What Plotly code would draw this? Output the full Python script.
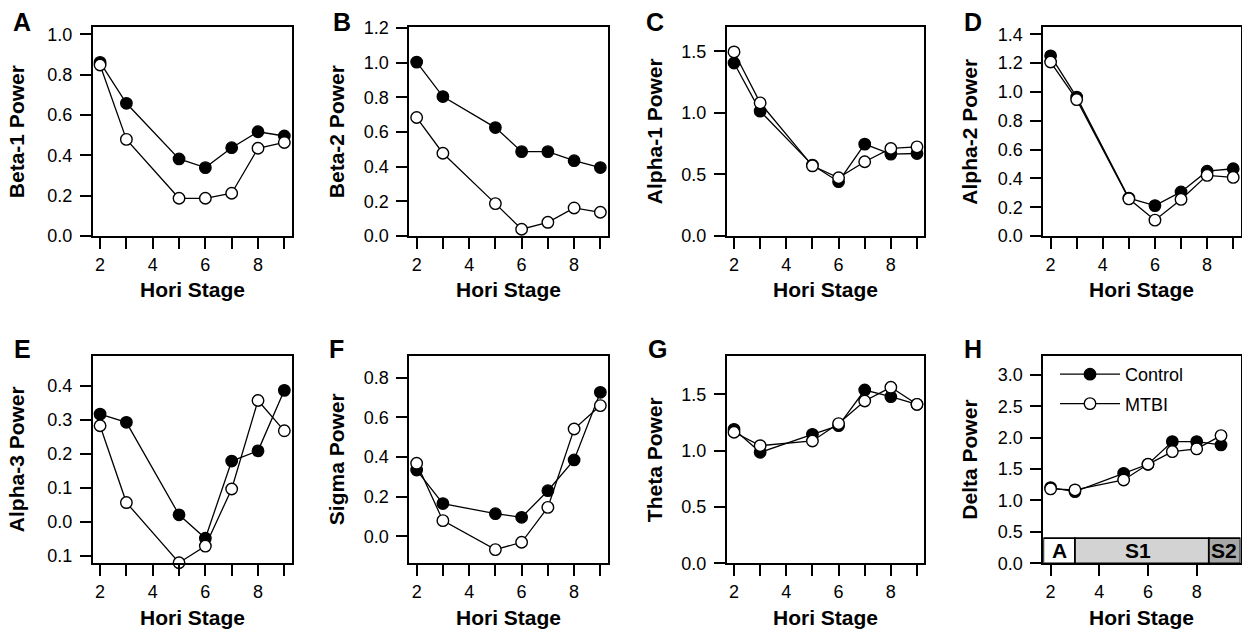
import plotly.graph_objects as go

# ---------------- data ----------------
stages = [2, 3, 5, 6, 7, 8, 9]

beta1_control = [0.861, 0.658, 0.382, 0.339, 0.438, 0.517, 0.496]
beta1_mtbi = [0.848, 0.479, 0.187, 0.187, 0.212, 0.435, 0.464]

beta2_control = [1.004, 0.805, 0.626, 0.487, 0.487, 0.435, 0.395]
beta2_mtbi = [0.684, 0.478, 0.187, 0.039, 0.079, 0.162, 0.137]

alpha1_control = [1.405, 1.014, 0.576, 0.441, 0.746, 0.665, 0.670]
alpha1_mtbi = [1.495, 1.081, 0.570, 0.473, 0.603, 0.711, 0.724]

alpha2_control = [1.251, 0.964, 0.263, 0.211, 0.306, 0.450, 0.467]
alpha2_mtbi = [1.208, 0.947, 0.258, 0.110, 0.254, 0.421, 0.407]

alpha3_control = [0.317, 0.293, 0.021, -0.048, 0.179, 0.209, 0.387]
alpha3_mtbi = [0.283, 0.057, -0.120, -0.071, 0.097, 0.357, 0.268]

sigma_control = [0.334, 0.165, 0.114, 0.096, 0.230, 0.385, 0.726]
sigma_mtbi = [0.368, 0.079, -0.067, -0.030, 0.146, 0.541, 0.659]

theta_control = [1.189, 0.985, 1.145, 1.222, 1.538, 1.479, 1.411]
theta_mtbi = [1.163, 1.044, 1.086, 1.240, 1.441, 1.562, 1.411]

delta_control = [1.205, 1.141, 1.433, 1.576, 1.937, 1.937, 1.884]
delta_mtbi = [1.184, 1.168, 1.327, 1.576, 1.778, 1.821, 2.033]

panel_letters = ["A", "B", "C", "D", "E", "F", "G", "H"]
y_titles = ["Beta-1 Power", "Beta-2 Power", "Alpha-1 Power", "Alpha-2 Power",
            "Alpha-3 Power", "Sigma Power", "Theta Power", "Delta Power"]
x_title = "Hori Stage"
series_names = ["Control", "MTBI"]

y_tickvals = [
    [0.0, 0.2, 0.4, 0.6, 0.8, 1.0],
    [0.0, 0.2, 0.4, 0.6, 0.8, 1.0, 1.2],
    [0.0, 0.5, 1.0, 1.5],
    [0.0, 0.2, 0.4, 0.6, 0.8, 1.0, 1.2, 1.4],
    [-0.1, 0.0, 0.1, 0.2, 0.3, 0.4],
    [0.0, 0.2, 0.4, 0.6, 0.8],
    [0.0, 0.5, 1.0, 1.5],
    [0.0, 0.5, 1.0, 1.5, 2.0, 2.5, 3.0],
]
y_ticktext = [
    ["0.0", "0.2", "0.4", "0.6", "0.8", "1.0"],
    ["0.0", "0.2", "0.4", "0.6", "0.8", "1.0", "1.2"],
    ["0.0", "0.5", "1.0", "1.5"],
    ["0.0", "0.2", "0.4", "0.6", "0.8", "1.0", "1.2", "1.4"],
    ["0.1", "0.0", "0.1", "0.2", "0.3", "0.4"],
    ["0.0", "0.2", "0.4", "0.6", "0.8"],
    ["0.0", "0.5", "1.0", "1.5"],
    ["0.0", "0.5", "1.0", "1.5", "2.0", "2.5", "3.0"],
]
y_ranges = [
    [0.0, 1.035], [0.0, 1.205], [0.0, 1.695], [0.0, 1.449],
    [-0.1216, 0.488], [-0.136, 0.909], [0.0, 1.84], [0.0, 3.30],
]

x_tickvals_full = [2, 3, 4, 5, 6, 7, 8, 9]
x_ticktext_full = ["2", "", "4", "", "6", "", "8", ""]
x_tickvals_h = [2, 4, 6, 8]
x_ticktext_h = ["2", "4", "6", "8"]

stage_labels = ["A", "S1", "S2"]
stage_bounds = [1.70, 3.0, 8.5, 9.80]
stage_colors = ["#ffffff", "#d3d3d3", "#a8a8a8"]
stage_label_x = [2.38, 5.57, 9.14]
stage_bar_top = 0.4

series = [
    (beta1_control, beta1_mtbi), (beta2_control, beta2_mtbi),
    (alpha1_control, alpha1_mtbi), (alpha2_control, alpha2_mtbi),
    (alpha3_control, alpha3_mtbi), (sigma_control, sigma_mtbi),
    (theta_control, theta_mtbi), (delta_control, delta_mtbi),
]

# ---------------- geometry (pixels) ----------------
W, H = 1242, 633
col_x = [(92.7, 291.7), (409.3, 607.7), (726.7, 924.3), (1043.3, 1240.5)]
row_y = [(27.3, 236.0), (356.0, 563.3)]
ytitle_cx = [16.5, 336.5, 654.5, 970.0]
letter_cx = [[22, 341.5, 655, 972.5], [22.5, 336.5, 657, 972.5]]
letter_cy = [21.8, 349.0]
xtitle_cy = [290, 617]

FONT = "Liberation Sans, Arial, Helvetica, sans-serif"


def px(x):
    return x / W


def py(y):
    return 1 - y / H


fig = go.Figure()
layout = dict(
    width=W, height=H, autosize=False,
    margin=dict(l=0, r=0, t=0, b=0, pad=0, autoexpand=False),
    paper_bgcolor="white", plot_bgcolor="white",
    font=dict(family=FONT, color="black", size=18),
    showlegend=True,
    annotations=[], shapes=[],
)

for i in range(8):
    r, c = divmod(i, 4)
    n = "" if i == 0 else str(i + 1)
    xa, ya = "x" + n, "y" + n
    x0, x1 = col_x[c]
    y0, y1 = row_y[r]
    is_h = i == 7
    layout["xaxis" + n] = dict(
        domain=[px(x0), px(x1)], anchor=ya, automargin=False,
        range=[stage_bounds[0], stage_bounds[-1]] if is_h else [1.72, 9.28],
        tickmode="array",
        tickvals=x_tickvals_h if is_h else x_tickvals_full,
        ticktext=x_ticktext_h if is_h else x_ticktext_full,
        ticks="outside", ticklen=11, tickwidth=1.5, tickcolor="black",
        showline=True, mirror=True, linecolor="black", linewidth=1.8,
        showgrid=False, zeroline=False,
        tickfont=dict(size=18, family=FONT, color="black"),
        ticklabelstandoff=0,
        fixedrange=True,
    )
    layout["yaxis" + n] = dict(
        domain=[py(y1), py(y0)], anchor=xa, automargin=False,
        range=y_ranges[i],
        tickmode="array", tickvals=y_tickvals[i], ticktext=y_ticktext[i],
        ticks="outside", ticklen=11, tickwidth=1.5, tickcolor="black",
        showline=True, mirror=True, linecolor="black", linewidth=1.8,
        showgrid=False, zeroline=False,
        tickfont=dict(size=18, family=FONT, color="black"),
        ticklabelstandoff=4,
        fixedrange=True,
    )
    ctrl, mtbi = series[i]
    fig.add_trace(go.Scatter(
        x=stages, y=ctrl, xaxis=xa, yaxis=ya, mode="lines+markers",
        name=series_names[0], legendgroup="ctrl", showlegend=is_h,
        line=dict(color="black", width=1.3),
        marker=dict(symbol="circle", size=11.5, color="black",
                    line=dict(color="black", width=1.3)),
        cliponaxis=False,
    ))
    fig.add_trace(go.Scatter(
        x=stages, y=mtbi, xaxis=xa, yaxis=ya, mode="lines+markers",
        name=series_names[1], legendgroup="mtbi", showlegend=is_h,
        line=dict(color="black", width=1.3),
        marker=dict(symbol="circle", size=11.5, color="white",
                    line=dict(color="black", width=1.4)),
        cliponaxis=False,
    ))
    layout["annotations"].append(dict(
        text="<b>%s</b>" % y_titles[i], textangle=-90,
        xref="paper", yref="paper", x=px(ytitle_cx[c]), y=py((y0 + y1) / 2),
        xanchor="center", yanchor="middle", showarrow=False,
        font=dict(size=21, family=FONT, color="black"),
    ))
    layout["annotations"].append(dict(
        text="<b>%s</b>" % x_title,
        xref="paper", yref="paper", x=px((x0 + x1) / 2), y=py(xtitle_cy[r]),
        xanchor="center", yanchor="middle", showarrow=False,
        font=dict(size=21, family=FONT, color="black"),
    ))
    layout["annotations"].append(dict(
        text="<b>%s</b>" % panel_letters[i],
        xref="paper", yref="paper", x=px(letter_cx[r][c]), y=py(letter_cy[r]),
        xanchor="center", yanchor="middle", showarrow=False,
        font=dict(size=25, family=FONT, color="black"),
    ))

for k, lab in enumerate(stage_labels):
    layout["shapes"].append(dict(
        type="rect", xref="x8", yref="y8",
        x0=stage_bounds[k], x1=stage_bounds[k + 1], y0=0, y1=stage_bar_top,
        fillcolor=stage_colors[k], line=dict(color="black", width=1.8),
        layer="below",
    ))
    layout["annotations"].append(dict(
        text="<b>%s</b>" % lab, xref="x8", yref="y8",
        x=stage_label_x[k], y=stage_bar_top / 2,
        xanchor="center", yanchor="middle", showarrow=False,
        font=dict(size=21, family=FONT, color="black"),
    ))

layout["legend"] = dict(
    x=px(1055), y=py(356), xanchor="left", yanchor="top",
    bgcolor="rgba(0,0,0,0)", borderwidth=0,
    font=dict(size=18, family=FONT, color="black"),
    itemwidth=60, tracegroupgap=3,
    itemclick=False, itemdoubleclick=False,
)

fig.update_layout(**layout)

post = """
var gd = document.querySelector('.plotly-graph-div');
document.documentElement.style.margin = '0';
document.documentElement.style.padding = '0';
document.body.style.margin = '0';
document.body.style.padding = '0';
gd.style.position = 'absolute'; gd.style.left = '0px'; gd.style.top = '0px';
document.documentElement.style.height = '633px';
document.body.style.height = '633px';
document.documentElement.style.overflow = 'hidden';
document.body.style.overflow = 'hidden';
"""

fig.write_html("out.html", config={"displayModeBar": False}, post_script=post)
